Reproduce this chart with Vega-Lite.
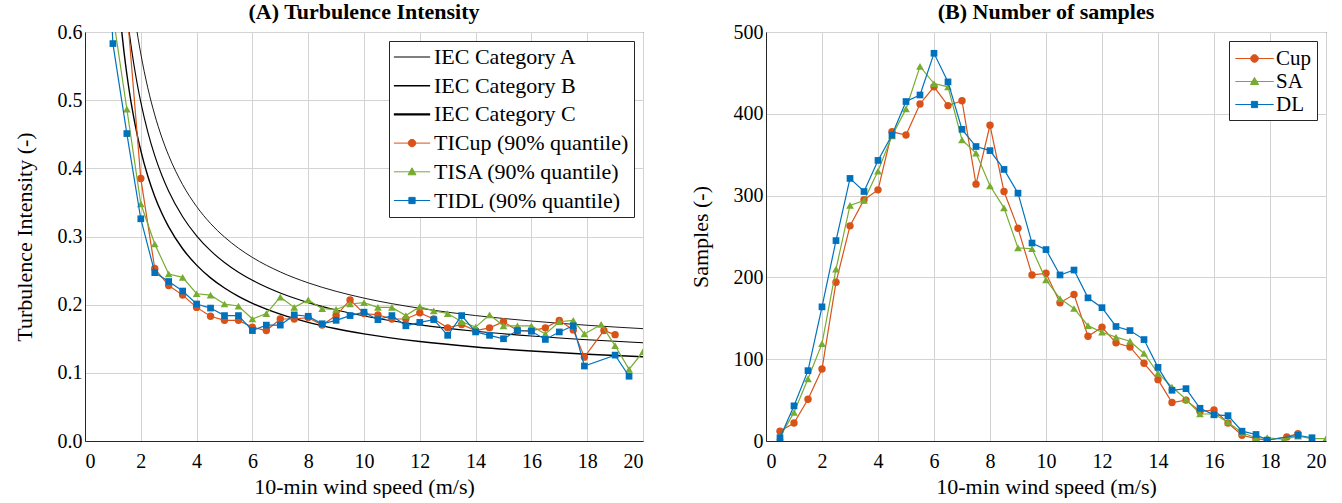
{
  "$schema": "https://vega.github.io/schema/vega-lite/v6.json",
  "padding": {"left": 12, "top": 0, "right": 5, "bottom": 0},
  "spacing": 123,
  "bounds": "flush",
  "resolve": {"scale": {"color": "independent", "x": "independent", "y": "independent"}, "legend": {"color": "independent"}},
  "datasets": {
    "iec": [
      {"v": 1.2, "ti": 0.8667, "name": "IEC Category A"}, {"v": 1.3, "ti": 0.8092, "name": "IEC Category A"}, {"v": 1.4, "ti": 0.76, "name": "IEC Category A"}, {"v": 1.5, "ti": 0.7173, "name": "IEC Category A"}, {"v": 1.6, "ti": 0.68, "name": "IEC Category A"}, {"v": 1.7, "ti": 0.6471, "name": "IEC Category A"}, {"v": 1.8, "ti": 0.6178, "name": "IEC Category A"}, {"v": 1.9, "ti": 0.5916, "name": "IEC Category A"}, {"v": 2.0, "ti": 0.568, "name": "IEC Category A"}, {"v": 2.25, "ti": 0.5182, "name": "IEC Category A"}, {"v": 2.5, "ti": 0.4784, "name": "IEC Category A"}, {"v": 2.75, "ti": 0.4458, "name": "IEC Category A"}, {"v": 3, "ti": 0.4187, "name": "IEC Category A"}, {"v": 3.5, "ti": 0.376, "name": "IEC Category A"}, {"v": 4, "ti": 0.344, "name": "IEC Category A"}, {"v": 4.5, "ti": 0.3191, "name": "IEC Category A"}, {"v": 5, "ti": 0.2992, "name": "IEC Category A"}, {"v": 5.5, "ti": 0.2829, "name": "IEC Category A"}, {"v": 6, "ti": 0.2693, "name": "IEC Category A"}, {"v": 7, "ti": 0.248, "name": "IEC Category A"}, {"v": 8, "ti": 0.232, "name": "IEC Category A"}, {"v": 9, "ti": 0.2196, "name": "IEC Category A"}, {"v": 10, "ti": 0.2096, "name": "IEC Category A"}, {"v": 12, "ti": 0.1947, "name": "IEC Category A"}, {"v": 14, "ti": 0.184, "name": "IEC Category A"}, {"v": 16, "ti": 0.176, "name": "IEC Category A"}, {"v": 18, "ti": 0.1698, "name": "IEC Category A"}, {"v": 20, "ti": 0.1648, "name": "IEC Category A"},
      {"v": 1.2, "ti": 0.7583, "name": "IEC Category B"}, {"v": 1.3, "ti": 0.7081, "name": "IEC Category B"}, {"v": 1.4, "ti": 0.665, "name": "IEC Category B"}, {"v": 1.5, "ti": 0.6277, "name": "IEC Category B"}, {"v": 1.6, "ti": 0.595, "name": "IEC Category B"}, {"v": 1.7, "ti": 0.5662, "name": "IEC Category B"}, {"v": 1.8, "ti": 0.5406, "name": "IEC Category B"}, {"v": 1.9, "ti": 0.5176, "name": "IEC Category B"}, {"v": 2.0, "ti": 0.497, "name": "IEC Category B"}, {"v": 2.25, "ti": 0.4534, "name": "IEC Category B"}, {"v": 2.5, "ti": 0.4186, "name": "IEC Category B"}, {"v": 2.75, "ti": 0.3901, "name": "IEC Category B"}, {"v": 3, "ti": 0.3663, "name": "IEC Category B"}, {"v": 3.5, "ti": 0.329, "name": "IEC Category B"}, {"v": 4, "ti": 0.301, "name": "IEC Category B"}, {"v": 4.5, "ti": 0.2792, "name": "IEC Category B"}, {"v": 5, "ti": 0.2618, "name": "IEC Category B"}, {"v": 5.5, "ti": 0.2475, "name": "IEC Category B"}, {"v": 6, "ti": 0.2357, "name": "IEC Category B"}, {"v": 7, "ti": 0.217, "name": "IEC Category B"}, {"v": 8, "ti": 0.203, "name": "IEC Category B"}, {"v": 9, "ti": 0.1921, "name": "IEC Category B"}, {"v": 10, "ti": 0.1834, "name": "IEC Category B"}, {"v": 12, "ti": 0.1703, "name": "IEC Category B"}, {"v": 14, "ti": 0.161, "name": "IEC Category B"}, {"v": 16, "ti": 0.154, "name": "IEC Category B"}, {"v": 18, "ti": 0.1486, "name": "IEC Category B"}, {"v": 20, "ti": 0.1442, "name": "IEC Category B"},
      {"v": 1.2, "ti": 0.65, "name": "IEC Category C"}, {"v": 1.3, "ti": 0.6069, "name": "IEC Category C"}, {"v": 1.4, "ti": 0.57, "name": "IEC Category C"}, {"v": 1.5, "ti": 0.538, "name": "IEC Category C"}, {"v": 1.6, "ti": 0.51, "name": "IEC Category C"}, {"v": 1.7, "ti": 0.4853, "name": "IEC Category C"}, {"v": 1.8, "ti": 0.4633, "name": "IEC Category C"}, {"v": 1.9, "ti": 0.4437, "name": "IEC Category C"}, {"v": 2.0, "ti": 0.426, "name": "IEC Category C"}, {"v": 2.25, "ti": 0.3887, "name": "IEC Category C"}, {"v": 2.5, "ti": 0.3588, "name": "IEC Category C"}, {"v": 2.75, "ti": 0.3344, "name": "IEC Category C"}, {"v": 3, "ti": 0.314, "name": "IEC Category C"}, {"v": 3.5, "ti": 0.282, "name": "IEC Category C"}, {"v": 4, "ti": 0.258, "name": "IEC Category C"}, {"v": 4.5, "ti": 0.2393, "name": "IEC Category C"}, {"v": 5, "ti": 0.2244, "name": "IEC Category C"}, {"v": 5.5, "ti": 0.2122, "name": "IEC Category C"}, {"v": 6, "ti": 0.202, "name": "IEC Category C"}, {"v": 7, "ti": 0.186, "name": "IEC Category C"}, {"v": 8, "ti": 0.174, "name": "IEC Category C"}, {"v": 9, "ti": 0.1647, "name": "IEC Category C"}, {"v": 10, "ti": 0.1572, "name": "IEC Category C"}, {"v": 12, "ti": 0.146, "name": "IEC Category C"}, {"v": 14, "ti": 0.138, "name": "IEC Category C"}, {"v": 16, "ti": 0.132, "name": "IEC Category C"}, {"v": 18, "ti": 0.1273, "name": "IEC Category C"}, {"v": 20, "ti": 0.1236, "name": "IEC Category C"}
    ],
    "ti": [
      {"v": 1.5, "ti": 0.635, "name": "TICup (90% quantile)"}, {"v": 2, "ti": 0.385, "name": "TICup (90% quantile)"}, {"v": 2.5, "ti": 0.253, "name": "TICup (90% quantile)"}, {"v": 3, "ti": 0.228, "name": "TICup (90% quantile)"}, {"v": 3.5, "ti": 0.214, "name": "TICup (90% quantile)"}, {"v": 4, "ti": 0.196, "name": "TICup (90% quantile)"}, {"v": 4.5, "ti": 0.183, "name": "TICup (90% quantile)"}, {"v": 5, "ti": 0.177, "name": "TICup (90% quantile)"}, {"v": 5.5, "ti": 0.177, "name": "TICup (90% quantile)"}, {"v": 6, "ti": 0.167, "name": "TICup (90% quantile)"}, {"v": 6.5, "ti": 0.162, "name": "TICup (90% quantile)"}, {"v": 7, "ti": 0.179, "name": "TICup (90% quantile)"}, {"v": 7.5, "ti": 0.179, "name": "TICup (90% quantile)"}, {"v": 8, "ti": 0.181, "name": "TICup (90% quantile)"}, {"v": 8.5, "ti": 0.17, "name": "TICup (90% quantile)"}, {"v": 9, "ti": 0.184, "name": "TICup (90% quantile)"}, {"v": 9.5, "ti": 0.207, "name": "TICup (90% quantile)"}, {"v": 10, "ti": 0.187, "name": "TICup (90% quantile)"}, {"v": 10.5, "ti": 0.185, "name": "TICup (90% quantile)"}, {"v": 11, "ti": 0.179, "name": "TICup (90% quantile)"}, {"v": 11.5, "ti": 0.179, "name": "TICup (90% quantile)"}, {"v": 12, "ti": 0.188, "name": "TICup (90% quantile)"}, {"v": 12.5, "ti": 0.179, "name": "TICup (90% quantile)"}, {"v": 13, "ti": 0.166, "name": "TICup (90% quantile)"}, {"v": 13.5, "ti": 0.171, "name": "TICup (90% quantile)"}, {"v": 14, "ti": 0.162, "name": "TICup (90% quantile)"}, {"v": 14.5, "ti": 0.166, "name": "TICup (90% quantile)"}, {"v": 15, "ti": 0.175, "name": "TICup (90% quantile)"}, {"v": 15.5, "ti": 0.162, "name": "TICup (90% quantile)"}, {"v": 16, "ti": 0.162, "name": "TICup (90% quantile)"}, {"v": 16.5, "ti": 0.166, "name": "TICup (90% quantile)"}, {"v": 17, "ti": 0.177, "name": "TICup (90% quantile)"}, {"v": 17.5, "ti": 0.163, "name": "TICup (90% quantile)"}, {"v": 17.9, "ti": 0.123, "name": "TICup (90% quantile)"}, {"v": 18.6, "ti": 0.162, "name": "TICup (90% quantile)"}, {"v": 19, "ti": 0.156, "name": "TICup (90% quantile)"},
      {"v": 1, "ti": 0.625, "name": "TISA (90% quantile)"}, {"v": 1.5, "ti": 0.487, "name": "TISA (90% quantile)"}, {"v": 2, "ti": 0.348, "name": "TISA (90% quantile)"}, {"v": 2.5, "ti": 0.289, "name": "TISA (90% quantile)"}, {"v": 3, "ti": 0.245, "name": "TISA (90% quantile)"}, {"v": 3.5, "ti": 0.24, "name": "TISA (90% quantile)"}, {"v": 4, "ti": 0.216, "name": "TISA (90% quantile)"}, {"v": 4.5, "ti": 0.214, "name": "TISA (90% quantile)"}, {"v": 5, "ti": 0.201, "name": "TISA (90% quantile)"}, {"v": 5.5, "ti": 0.198, "name": "TISA (90% quantile)"}, {"v": 6, "ti": 0.179, "name": "TISA (90% quantile)"}, {"v": 6.5, "ti": 0.187, "name": "TISA (90% quantile)"}, {"v": 7, "ti": 0.211, "name": "TISA (90% quantile)"}, {"v": 7.5, "ti": 0.196, "name": "TISA (90% quantile)"}, {"v": 8, "ti": 0.207, "name": "TISA (90% quantile)"}, {"v": 8.5, "ti": 0.194, "name": "TISA (90% quantile)"}, {"v": 9, "ti": 0.193, "name": "TISA (90% quantile)"}, {"v": 9.5, "ti": 0.201, "name": "TISA (90% quantile)"}, {"v": 10, "ti": 0.203, "name": "TISA (90% quantile)"}, {"v": 10.5, "ti": 0.196, "name": "TISA (90% quantile)"}, {"v": 11, "ti": 0.196, "name": "TISA (90% quantile)"}, {"v": 11.5, "ti": 0.184, "name": "TISA (90% quantile)"}, {"v": 12, "ti": 0.197, "name": "TISA (90% quantile)"}, {"v": 12.5, "ti": 0.191, "name": "TISA (90% quantile)"}, {"v": 13, "ti": 0.187, "name": "TISA (90% quantile)"}, {"v": 13.5, "ti": 0.175, "name": "TISA (90% quantile)"}, {"v": 14, "ti": 0.167, "name": "TISA (90% quantile)"}, {"v": 14.5, "ti": 0.185, "name": "TISA (90% quantile)"}, {"v": 15, "ti": 0.169, "name": "TISA (90% quantile)"}, {"v": 15.5, "ti": 0.169, "name": "TISA (90% quantile)"}, {"v": 16, "ti": 0.169, "name": "TISA (90% quantile)"}, {"v": 16.5, "ti": 0.157, "name": "TISA (90% quantile)"}, {"v": 17, "ti": 0.175, "name": "TISA (90% quantile)"}, {"v": 17.5, "ti": 0.177, "name": "TISA (90% quantile)"}, {"v": 17.9, "ti": 0.157, "name": "TISA (90% quantile)"}, {"v": 18.5, "ti": 0.171, "name": "TISA (90% quantile)"}, {"v": 19, "ti": 0.14, "name": "TISA (90% quantile)"}, {"v": 19.5, "ti": 0.105, "name": "TISA (90% quantile)"}, {"v": 20, "ti": 0.131, "name": "TISA (90% quantile)"},
      {"v": 0.5, "ti": 1.0, "name": "TIDL (90% quantile)"}, {"v": 1, "ti": 0.583, "name": "TIDL (90% quantile)"}, {"v": 1.5, "ti": 0.451, "name": "TIDL (90% quantile)"}, {"v": 2, "ti": 0.326, "name": "TIDL (90% quantile)"}, {"v": 2.5, "ti": 0.247, "name": "TIDL (90% quantile)"}, {"v": 3, "ti": 0.234, "name": "TIDL (90% quantile)"}, {"v": 3.5, "ti": 0.22, "name": "TIDL (90% quantile)"}, {"v": 4, "ti": 0.201, "name": "TIDL (90% quantile)"}, {"v": 4.5, "ti": 0.195, "name": "TIDL (90% quantile)"}, {"v": 5, "ti": 0.184, "name": "TIDL (90% quantile)"}, {"v": 5.5, "ti": 0.184, "name": "TIDL (90% quantile)"}, {"v": 6, "ti": 0.162, "name": "TIDL (90% quantile)"}, {"v": 6.5, "ti": 0.17, "name": "TIDL (90% quantile)"}, {"v": 7, "ti": 0.17, "name": "TIDL (90% quantile)"}, {"v": 7.5, "ti": 0.185, "name": "TIDL (90% quantile)"}, {"v": 8, "ti": 0.183, "name": "TIDL (90% quantile)"}, {"v": 8.5, "ti": 0.172, "name": "TIDL (90% quantile)"}, {"v": 9, "ti": 0.177, "name": "TIDL (90% quantile)"}, {"v": 9.5, "ti": 0.184, "name": "TIDL (90% quantile)"}, {"v": 10, "ti": 0.189, "name": "TIDL (90% quantile)"}, {"v": 10.5, "ti": 0.178, "name": "TIDL (90% quantile)"}, {"v": 11, "ti": 0.184, "name": "TIDL (90% quantile)"}, {"v": 11.5, "ti": 0.169, "name": "TIDL (90% quantile)"}, {"v": 12, "ti": 0.174, "name": "TIDL (90% quantile)"}, {"v": 12.5, "ti": 0.178, "name": "TIDL (90% quantile)"}, {"v": 13, "ti": 0.155, "name": "TIDL (90% quantile)"}, {"v": 13.5, "ti": 0.184, "name": "TIDL (90% quantile)"}, {"v": 14, "ti": 0.16, "name": "TIDL (90% quantile)"}, {"v": 14.5, "ti": 0.155, "name": "TIDL (90% quantile)"}, {"v": 15, "ti": 0.15, "name": "TIDL (90% quantile)"}, {"v": 15.5, "ti": 0.162, "name": "TIDL (90% quantile)"}, {"v": 16, "ti": 0.161, "name": "TIDL (90% quantile)"}, {"v": 16.5, "ti": 0.149, "name": "TIDL (90% quantile)"}, {"v": 17, "ti": 0.16, "name": "TIDL (90% quantile)"}, {"v": 17.5, "ti": 0.169, "name": "TIDL (90% quantile)"}, {"v": 17.9, "ti": 0.11, "name": "TIDL (90% quantile)"}, {"v": 19, "ti": 0.126, "name": "TIDL (90% quantile)"}, {"v": 19.5, "ti": 0.095, "name": "TIDL (90% quantile)"}
    ],
    "samples": [
      {"v": 0.5, "n": 12, "s": "Cup"}, {"v": 1, "n": 22, "s": "Cup"}, {"v": 1.5, "n": 51, "s": "Cup"}, {"v": 2, "n": 88, "s": "Cup"}, {"v": 2.5, "n": 194, "s": "Cup"}, {"v": 3, "n": 263, "s": "Cup"}, {"v": 3.5, "n": 295, "s": "Cup"}, {"v": 4, "n": 307, "s": "Cup"}, {"v": 4.5, "n": 378, "s": "Cup"}, {"v": 5, "n": 374, "s": "Cup"}, {"v": 5.5, "n": 412, "s": "Cup"}, {"v": 6, "n": 433, "s": "Cup"}, {"v": 6.5, "n": 410, "s": "Cup"}, {"v": 7, "n": 416, "s": "Cup"}, {"v": 7.5, "n": 314, "s": "Cup"}, {"v": 8, "n": 386, "s": "Cup"}, {"v": 8.5, "n": 305, "s": "Cup"}, {"v": 9, "n": 260, "s": "Cup"}, {"v": 9.5, "n": 203, "s": "Cup"}, {"v": 10, "n": 205, "s": "Cup"}, {"v": 10.5, "n": 169, "s": "Cup"}, {"v": 11, "n": 179, "s": "Cup"}, {"v": 11.5, "n": 128, "s": "Cup"}, {"v": 12, "n": 139, "s": "Cup"}, {"v": 12.5, "n": 120, "s": "Cup"}, {"v": 13, "n": 115, "s": "Cup"}, {"v": 13.5, "n": 95, "s": "Cup"}, {"v": 14, "n": 75, "s": "Cup"}, {"v": 14.5, "n": 47, "s": "Cup"}, {"v": 15, "n": 50, "s": "Cup"}, {"v": 15.5, "n": 36, "s": "Cup"}, {"v": 16, "n": 38, "s": "Cup"}, {"v": 16.5, "n": 22, "s": "Cup"}, {"v": 17, "n": 7, "s": "Cup"}, {"v": 17.5, "n": 3, "s": "Cup"}, {"v": 17.9, "n": 1, "s": "Cup"}, {"v": 18.6, "n": 5, "s": "Cup"}, {"v": 19, "n": 9, "s": "Cup"},
      {"v": 0.5, "n": 5, "s": "SA"}, {"v": 1, "n": 35, "s": "SA"}, {"v": 1.5, "n": 76, "s": "SA"}, {"v": 2, "n": 119, "s": "SA"}, {"v": 2.5, "n": 210, "s": "SA"}, {"v": 3, "n": 288, "s": "SA"}, {"v": 3.5, "n": 294, "s": "SA"}, {"v": 4, "n": 330, "s": "SA"}, {"v": 4.5, "n": 373, "s": "SA"}, {"v": 5, "n": 406, "s": "SA"}, {"v": 5.5, "n": 458, "s": "SA"}, {"v": 6, "n": 437, "s": "SA"}, {"v": 6.5, "n": 433, "s": "SA"}, {"v": 7, "n": 368, "s": "SA"}, {"v": 7.5, "n": 352, "s": "SA"}, {"v": 8, "n": 312, "s": "SA"}, {"v": 8.5, "n": 285, "s": "SA"}, {"v": 9, "n": 236, "s": "SA"}, {"v": 9.5, "n": 235, "s": "SA"}, {"v": 10, "n": 197, "s": "SA"}, {"v": 10.5, "n": 174, "s": "SA"}, {"v": 11, "n": 162, "s": "SA"}, {"v": 11.5, "n": 141, "s": "SA"}, {"v": 12, "n": 133, "s": "SA"}, {"v": 12.5, "n": 127, "s": "SA"}, {"v": 13, "n": 122, "s": "SA"}, {"v": 13.5, "n": 107, "s": "SA"}, {"v": 14, "n": 83, "s": "SA"}, {"v": 14.5, "n": 66, "s": "SA"}, {"v": 15, "n": 51, "s": "SA"}, {"v": 15.5, "n": 33, "s": "SA"}, {"v": 16, "n": 33, "s": "SA"}, {"v": 16.5, "n": 23, "s": "SA"}, {"v": 17, "n": 10, "s": "SA"}, {"v": 17.5, "n": 4, "s": "SA"}, {"v": 17.9, "n": 4, "s": "SA"}, {"v": 18.5, "n": 2, "s": "SA"}, {"v": 19, "n": 6, "s": "SA"}, {"v": 19.5, "n": 3, "s": "SA"}, {"v": 20, "n": 3, "s": "SA"},
      {"v": 0.5, "n": 4, "s": "DL"}, {"v": 1, "n": 43, "s": "DL"}, {"v": 1.5, "n": 86, "s": "DL"}, {"v": 2, "n": 164, "s": "DL"}, {"v": 2.5, "n": 245, "s": "DL"}, {"v": 3, "n": 321, "s": "DL"}, {"v": 3.5, "n": 305, "s": "DL"}, {"v": 4, "n": 343, "s": "DL"}, {"v": 4.5, "n": 374, "s": "DL"}, {"v": 5, "n": 415, "s": "DL"}, {"v": 5.5, "n": 423, "s": "DL"}, {"v": 6, "n": 474, "s": "DL"}, {"v": 6.5, "n": 439, "s": "DL"}, {"v": 7, "n": 381, "s": "DL"}, {"v": 7.5, "n": 360, "s": "DL"}, {"v": 8, "n": 355, "s": "DL"}, {"v": 8.5, "n": 332, "s": "DL"}, {"v": 9, "n": 303, "s": "DL"}, {"v": 9.5, "n": 242, "s": "DL"}, {"v": 10, "n": 234, "s": "DL"}, {"v": 10.5, "n": 203, "s": "DL"}, {"v": 11, "n": 209, "s": "DL"}, {"v": 11.5, "n": 175, "s": "DL"}, {"v": 12, "n": 163, "s": "DL"}, {"v": 12.5, "n": 140, "s": "DL"}, {"v": 13, "n": 135, "s": "DL"}, {"v": 13.5, "n": 124, "s": "DL"}, {"v": 14, "n": 90, "s": "DL"}, {"v": 14.5, "n": 62, "s": "DL"}, {"v": 15, "n": 64, "s": "DL"}, {"v": 15.5, "n": 40, "s": "DL"}, {"v": 16, "n": 32, "s": "DL"}, {"v": 16.5, "n": 31, "s": "DL"}, {"v": 17, "n": 12, "s": "DL"}, {"v": 17.5, "n": 8, "s": "DL"}, {"v": 17.9, "n": 1, "s": "DL"}, {"v": 19, "n": 7, "s": "DL"}, {"v": 19.5, "n": 4, "s": "DL"}
    ]
  },
  "hconcat": [
    {
      "width": 558,
      "height": 409,
      "title": {"text": "(A) Turbulence Intensity", "fontSize": 22, "fontWeight": "bold", "font": "Liberation Serif", "color": "#000", "offset": -2},
      "encoding": {
        "x": {"field": "v", "type": "quantitative", "scale": {"domain": [0, 20], "nice": false}, "axis": {"values": [0, 2, 4, 6, 8, 10, 12, 14, 16, 18, 20], "title": "10-min wind speed (m/s)", "grid": true, "gridColor": "#d3d3d3", "gridWidth": 1}},
        "y": {"field": "ti", "type": "quantitative", "scale": {"domain": [0, 0.6], "nice": false}, "axis": {"values": [0, 0.1, 0.2, 0.3, 0.4, 0.5, 0.6], "format": ".1f", "title": "Turbulence Intensity (-)", "grid": true, "gridColor": "#d3d3d3", "gridWidth": 1}},
        "color": {
          "field": "name", "type": "nominal",
          "scale": {"domain": ["IEC Category A", "IEC Category B", "IEC Category C", "TICup (90% quantile)", "TISA (90% quantile)", "TIDL (90% quantile)"], "range": ["#000000", "#000000", "#000000", "#D95319", "#77AC30", "#0072BD"]},
          "legend": {
            "title": null, "orient": "top-right", "offset": 9, "zindex": 2,
            "fillColor": "white", "strokeColor": "#262626", "padding": 5,
            "labelFontSize": 22, "labelFont": "Liberation Serif", "labelColor": "#000", "labelLimit": 400,
            "symbolSize": 625, "symbolOffset": 7, "labelOffset": 11, "rowPadding": 6.7,
            "encode": {"symbols": {"update": {
              "shape": {"signal": "datum.value == 'TICup (90% quantile)' ? 'M-1.45,0H1.45M0.3,0A0.3,0.3 0 1,1 -0.3,0A0.3,0.3 0 1,1 0.3,0Z' : datum.value == 'TISA (90% quantile)' ? 'M-1.45,0H1.45M0,-0.32L0.32,0.24L-0.32,0.24Z' : datum.value == 'TIDL (90% quantile)' ? 'M-1.45,0H1.45M-0.25,-0.25H0.25V0.25H-0.25Z' : 'M-1.45,0H1.45'"},
              "fill": {"signal": "indexof(datum.value, 'Cup') >= 0 ? '#D95319' : indexof(datum.value, 'SA (') >= 0 ? '#77AC30' : indexof(datum.value, 'DL') >= 0 ? '#0072BD' : 'transparent'"},
              "stroke": {"signal": "indexof(datum.value, 'Cup') >= 0 ? '#D95319' : indexof(datum.value, 'SA (') >= 0 ? '#77AC30' : indexof(datum.value, 'DL') >= 0 ? '#0072BD' : '#000000'"},
              "strokeWidth": {"signal": "datum.value == 'IEC Category C' ? 2.4 : datum.value == 'IEC Category B' ? 1.4 : 1"},
              "opacity": {"value": 1}
            }}}
          }
        }
      },
      "layer": [
        {
          "data": {"name": "iec"},
          "mark": {"type": "line", "clip": true, "interpolate": "monotone"},
          "encoding": {"strokeWidth": {"field": "name", "type": "nominal", "scale": {"domain": ["IEC Category A", "IEC Category B", "IEC Category C"], "range": [0.9, 1.4, 2.4]}, "legend": null}}
        },
        {"data": {"name": "ti"}, "transform": [{"filter": {"field": "name", "equal": "TICup (90% quantile)"}}], "mark": {"type": "line", "clip": true, "strokeWidth": 1.2}},
        {"data": {"name": "ti"}, "transform": [{"filter": {"field": "name", "equal": "TICup (90% quantile)"}}], "mark": {"type": "point", "shape": "circle", "filled": true, "size": 55, "opacity": 1, "clip": true}},
        {"data": {"name": "ti"}, "transform": [{"filter": {"field": "name", "equal": "TISA (90% quantile)"}}], "mark": {"type": "line", "clip": true, "strokeWidth": 1.2}},
        {"data": {"name": "ti"}, "transform": [{"filter": {"field": "name", "equal": "TISA (90% quantile)"}}], "mark": {"type": "point", "shape": "triangle-up", "filled": true, "size": 60, "opacity": 1, "clip": true}},
        {"data": {"name": "ti"}, "transform": [{"filter": {"field": "name", "equal": "TIDL (90% quantile)"}}], "mark": {"type": "line", "clip": true, "strokeWidth": 1.2}},
        {"data": {"name": "ti"}, "transform": [{"filter": {"field": "name", "equal": "TIDL (90% quantile)"}}], "mark": {"type": "point", "shape": "square", "filled": true, "size": 45, "opacity": 1, "clip": true}}
      ]
    },
    {
      "width": 560,
      "height": 409,
      "title": {"text": "(B) Number of samples", "fontSize": 22, "fontWeight": "bold", "font": "Liberation Serif", "color": "#000", "offset": -2},
      "data": {"name": "samples"},
      "encoding": {
        "x": {"field": "v", "type": "quantitative", "scale": {"domain": [0, 20], "nice": false}, "axis": {"values": [0, 2, 4, 6, 8, 10, 12, 14, 16, 18, 20], "title": "10-min wind speed (m/s)", "grid": true, "gridColor": "#d3d3d3", "gridWidth": 1}},
        "y": {"field": "n", "type": "quantitative", "scale": {"domain": [0, 500], "nice": false}, "axis": {"values": [0, 100, 200, 300, 400, 500], "title": "Samples (-)", "grid": true, "gridColor": "#d3d3d3", "gridWidth": 1}},
        "color": {
          "field": "s", "type": "nominal",
          "scale": {"domain": ["Cup", "SA", "DL"], "range": ["#D95319", "#77AC30", "#0072BD"]},
          "legend": {
            "title": null, "orient": "top-right", "offset": 9, "zindex": 2,
            "fillColor": "white", "strokeColor": "#262626", "padding": 5,
            "labelFontSize": 21, "labelFont": "Liberation Serif", "labelColor": "#000",
            "symbolSize": 576, "symbolOffset": 8, "labelOffset": 9, "rowPadding": 0,
            "encode": {"symbols": {"update": {
              "shape": {"signal": "datum.value == 'Cup' ? 'M-1.6,0H1.6M0.32,0A0.32,0.32 0 1,1 -0.32,0A0.32,0.32 0 1,1 0.32,0Z' : datum.value == 'SA' ? 'M-1.6,0H1.6M0,-0.34L0.34,0.25L-0.34,0.25Z' : 'M-1.6,0H1.6M-0.26,-0.26H0.26V0.26H-0.26Z'"},
              "fill": {"signal": "datum.value == 'Cup' ? '#D95319' : datum.value == 'SA' ? '#77AC30' : '#0072BD'"},
              "stroke": {"signal": "datum.value == 'Cup' ? '#D95319' : datum.value == 'SA' ? '#77AC30' : '#0072BD'"},
              "strokeWidth": {"value": 1},
              "opacity": {"value": 1}
            }}}
          }
        }
      },
      "layer": [
        {"transform": [{"filter": {"field": "s", "equal": "Cup"}}], "mark": {"type": "line", "clip": true, "strokeWidth": 1.2}},
        {"transform": [{"filter": {"field": "s", "equal": "Cup"}}], "mark": {"type": "point", "shape": "circle", "filled": true, "size": 55, "opacity": 1, "clip": true}},
        {"transform": [{"filter": {"field": "s", "equal": "SA"}}], "mark": {"type": "line", "clip": true, "strokeWidth": 1.2}},
        {"transform": [{"filter": {"field": "s", "equal": "SA"}}], "mark": {"type": "point", "shape": "triangle-up", "filled": true, "size": 60, "opacity": 1, "clip": true}},
        {"transform": [{"filter": {"field": "s", "equal": "DL"}}], "mark": {"type": "line", "clip": true, "strokeWidth": 1.2}},
        {"transform": [{"filter": {"field": "s", "equal": "DL"}}], "mark": {"type": "point", "shape": "square", "filled": true, "size": 45, "opacity": 1, "clip": true}}
      ]
    }
  ],
  "config": {
    "font": "Liberation Serif",
    "background": "white",
    "view": {"stroke": "#262626", "strokeWidth": 1},
    "axis": {
      "labelFont": "Liberation Serif", "titleFont": "Liberation Serif",
      "labelFontSize": 20, "titleFontSize": 22, "titleFontWeight": "normal",
      "labelColor": "#000", "titleColor": "#000",
      "domainColor": "#262626",
      "grid": true, "gridColor": "#d3d3d3", "gridWidth": 1, "gridOpacity": 1,
      "ticks": false
    },
    "axisX": {"labelPadding": 10, "titlePadding": 5},
    "axisY": {"labelPadding": 3, "titlePadding": 21},
    "legend": {"labelFont": "Liberation Serif"}
  }
}
